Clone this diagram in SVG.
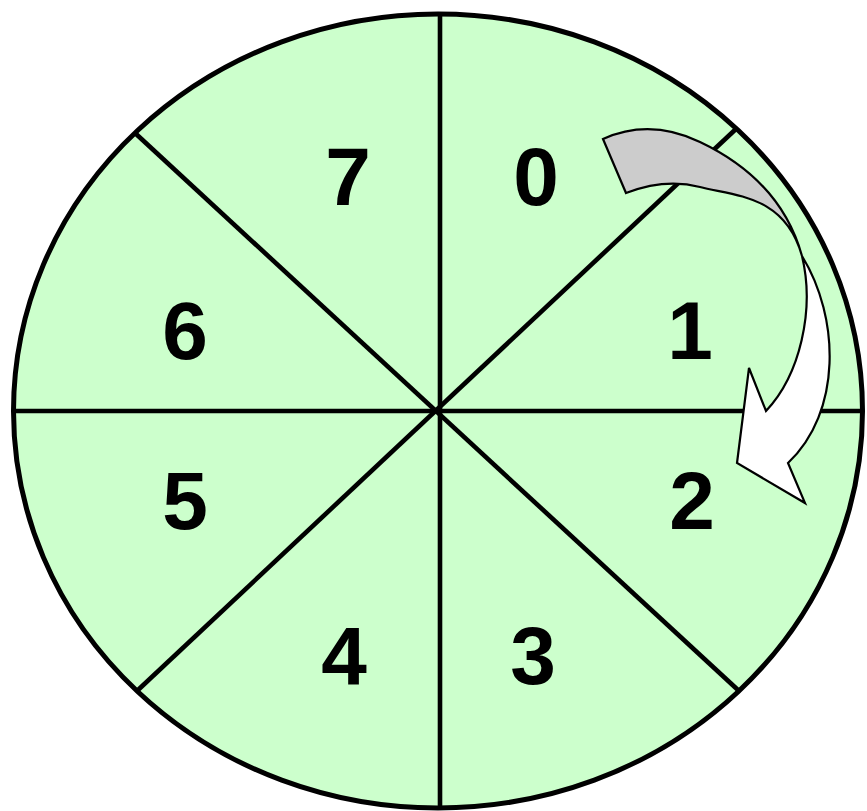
<svg xmlns="http://www.w3.org/2000/svg" width="867" height="811" viewBox="0 0 867 811">
  <style>
    .wheel { fill: #CCFFCC; stroke: #000; stroke-width: 5; }
    .div { stroke: #000; stroke-width: 4.6; fill: none; }
    .num { font-family: "Liberation Sans", Arial, sans-serif; font-weight: bold; font-size: 82px; fill: #000; text-anchor: middle; }
    .arr { stroke: #000; stroke-width: 2.2; stroke-linejoin: miter; }
  </style>
  <rect width="867" height="811" fill="#FFFFFF"/>
  <g id="wheel">
    <ellipse class="wheel" cx="438" cy="411" rx="424.5" ry="397"/>
    <line class="div" x1="440" y1="14" x2="440" y2="808"/>
    <line class="div" x1="13" y1="411" x2="862" y2="411"/>
    <line class="div" x1="135" y1="133" x2="738" y2="690"/>
    <line class="div" x1="138" y1="690" x2="737" y2="128"/>
  </g>
  <g id="sector-0"><text class="num" x="536" y="205">0</text></g>
  <g id="sector-1"><text class="num" x="690" y="359">1</text></g>
  <g id="sector-2"><text class="num" x="692" y="529">2</text></g>
  <g id="sector-3"><text class="num" x="533" y="684">3</text></g>
  <g id="sector-4"><text class="num" x="344" y="684">4</text></g>
  <g id="sector-5"><text class="num" x="185" y="529">5</text></g>
  <g id="sector-6"><text class="num" x="185" y="359">6</text></g>
  <g id="sector-7"><text class="num" x="348" y="205">7</text></g>
  <g id="connectors">
    <path class="arr" fill="#CCCCCC" d="M603,139 Q650,118 700,142 C740,161 785,195 802,256 C785,195 735,196 700,187 Q665,178 626,193 Z"/>
    <path class="arr" fill="#FFFFFF" d="M802,256 C840,318 842,412 788,463 L805,503 L737,463 L749,368 L766,411 C800,375 815,310 802,256 Z"/>
  </g>
</svg>
